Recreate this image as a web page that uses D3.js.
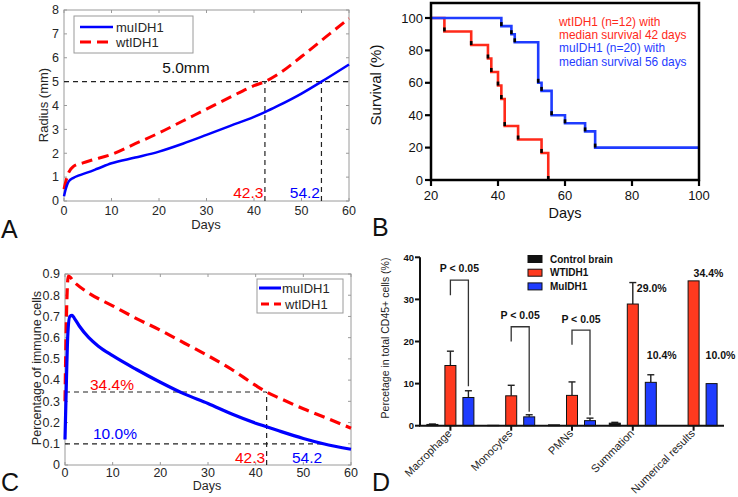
<!DOCTYPE html>
<html><head><meta charset="utf-8">
<script src="https://cdn.jsdelivr.net/npm/d3@7"></script>
<style>body{margin:0;background:#fff}svg{display:block;font-family:"Liberation Sans",Arial,sans-serif}</style>
</head><body><svg id="c" width="738" height="497"></svg>
<script>
// ---------- DATA ----------
// Panel A: tumour radius (mm) vs days
const radiusDaysMu = [0, 0.3, 0.6, 1, 2, 3, 5, 7, 10, 15, 20, 25, 30, 35, 40, 42.3, 45, 50, 54.2, 60];
const radiusMu     = [0.2, 0.45, 0.65, 0.82, 0.97, 1.06, 1.2, 1.35, 1.58, 1.82, 2.07, 2.4, 2.77, 3.15, 3.52, 3.72, 3.98, 4.5, 5.0, 5.72];
const radiusDaysWt = [0, 0.5, 1, 2, 4, 6, 10, 15, 20, 25, 30, 35, 40, 42.3, 45, 50, 55, 60];
const radiusWt     = [0.5, 0.9, 1.2, 1.45, 1.6, 1.72, 1.95, 2.4, 2.85, 3.35, 3.85, 4.35, 4.83, 5.0, 5.3, 6.05, 6.85, 7.65];
const radiusThreshold = 5.0;
const crossDays = [42.3, 54.2];
const aXTicks = [0, 10, 20, 30, 40, 50, 60];
const aYTicks = [0, 1, 2, 3, 4, 5, 6, 7, 8];

// Panel B: Kaplan–Meier survival (%)
const kmWtDays = [20, 24, 32, 37, 38, 40, 41, 42, 46, 53, 55];
const kmWt     = [100, 91.7, 83.3, 75, 66.7, 58.3, 50, 33.3, 25, 16.7, 0];
const kmMuDays = [20, 41, 44, 45, 52, 53, 56, 60, 66, 69, 100];
const kmMu     = [100, 95, 90, 85, 60, 55, 40, 35, 30, 20, 20];
const bXTicks = [20, 40, 60, 80, 100];
const bYTicks = [0, 20, 40, 60, 80, 100];
const bLegend = ["wtIDH1 (n=12) with", "median survival 42 days", "muIDH1 (n=20) with", "median survival 56 days"];

// Panel C: percentage of immune cells
const immDaysMu = [0, 0.3, 0.6, 1, 1.5, 2, 3, 5, 7, 10, 15, 20, 25, 30, 35, 40, 42.3, 45, 50, 54.2, 60];
const immMu     = [0.12, 0.4, 0.62, 0.7, 0.705, 0.69, 0.655, 0.6, 0.56, 0.515, 0.45, 0.39, 0.335, 0.29, 0.24, 0.197, 0.18, 0.16, 0.125, 0.1, 0.074];
const immDaysWt = [0, 0.3, 0.7, 2, 5, 10, 15, 20, 25, 30, 35, 40, 42.3, 45, 50, 55, 60];
const immWt     = [0.3, 0.7, 0.89, 0.86, 0.81, 0.75, 0.69, 0.635, 0.575, 0.515, 0.45, 0.375, 0.344, 0.315, 0.265, 0.22, 0.173];
const immWtAt = 0.344, immMuAt = 0.10;
const cYTicks = [0, 0.1, 0.2, 0.3, 0.4, 0.5, 0.6, 0.7, 0.8, 0.9];

// Panel D: bar chart
const dCategories = ["Macrophage", "Monocytes", "PMNs", "Summation", "Numerical results"];
const dSeries = ["Control brain", "WTIDH1", "MuIDH1"];
const dControl = [0.3, 0.1, 0.2, 0.6, 0];
const dControlErr = [0.4, null, null, 0.8, null];
const dWt = [14.3, 7.1, 7.2, 28.9, 34.4];
const dWtErr = [17.7, 9.6, 10.4, 34.0, null];
const dMu = [6.7, 2.1, 1.2, 10.3, 10.0];
const dMuErr = [8.3, 2.6, 1.8, 12.1, null];
const dYTicks = [0, 10, 20, 30, 40];
// significance brackets: [category index, top, left leg end, right leg end, label y]
const dSig = [[0, 34.6, 31.0, 9.4, 36.4], [1, 23.5, 20.0, 3.3, 25.3], [2, 22.7, 19.2, 2.5, 24.4]];
const dBarLabels = ["29.0%", "10.4%", "34.4%", "10.0%"];
const dBarLabelCat = [3, 3, 4, 4];
const dBarLabelSeries = [1, 2, 1, 2];
const dBarLabelY = [31.8, 15.8, 35.3, 15.8];

// ---------- DRAW ----------
const svg = d3.select("#c");
svg.append("rect").attr("width", 738).attr("height", 497).attr("fill", "#fff");
const RED = "#ff0000", BLUE = "#0000ff", TXT = "#262626", FRAME = "#9a9a9a";

function matlabFrame(g, x, y, xt, yt, yfmt, xoff) {
  const [x0, x1] = x.range(), [y0, y1] = y.range();
  g.append("rect").attr("x", x0).attr("y", y1).attr("width", x1 - x0).attr("height", y0 - y1)
    .attr("fill", "none").attr("stroke", FRAME).attr("stroke-width", 1);
  xt.forEach(t => {
    g.append("line").attr("x1", x(t)).attr("x2", x(t)).attr("y1", y0).attr("y2", y0 - 3).attr("stroke", FRAME);
    g.append("line").attr("x1", x(t)).attr("x2", x(t)).attr("y1", y1).attr("y2", y1 + 3).attr("stroke", FRAME);
    g.append("text").attr("x", x(t)).attr("y", y0 + xoff).attr("text-anchor", "middle")
      .attr("font-size", 12.5).attr("fill", TXT).text(t);
  });
  yt.forEach(t => {
    g.append("line").attr("x1", x0).attr("x2", x0 + 3).attr("y1", y(t)).attr("y2", y(t)).attr("stroke", FRAME);
    g.append("line").attr("x1", x1).attr("x2", x1 - 3).attr("y1", y(t)).attr("y2", y(t)).attr("stroke", FRAME);
    g.append("text").attr("x", x0 - 5).attr("y", y(t) + 4.3).attr("text-anchor", "end")
      .attr("font-size", 12.5).attr("fill", TXT).text(yfmt(t));
  });
}
function dashed(g, x1, y1, x2, y2) {
  g.append("line").attr("x1", x1).attr("y1", y1).attr("x2", x2).attr("y2", y2)
    .attr("stroke", "#222").attr("stroke-width", 1.2).attr("stroke-dasharray", "5,4");
}
function panelLetter(t, x, y) {
  svg.append("text").attr("x", x).attr("y", y).attr("font-size", 25).attr("fill", "#111").text(t);
}

// ===== Panel A =====
{
  const g = svg.append("g");
  const x = d3.scaleLinear([0, 60], [64, 349]);
  const y = d3.scaleLinear([0, 8], [201, 10]);
  matlabFrame(g, x, y, aXTicks, aYTicks, d => d, 14);
  const line = d3.line().x(d => x(d[0])).y(d => y(d[1])).curve(d3.curveMonotoneX);
  dashed(g, x(0), y(radiusThreshold), x(60), y(radiusThreshold));
  crossDays.forEach(d => dashed(g, x(d), y(0), x(d), y(radiusThreshold)));
  g.append("path").datum(d3.zip(radiusDaysWt, radiusWt)).attr("d", line)
    .attr("fill", "none").attr("stroke", RED).attr("stroke-width", 3).attr("stroke-dasharray", "11,6");
  g.append("path").datum(d3.zip(radiusDaysMu, radiusMu)).attr("d", line)
    .attr("fill", "none").attr("stroke", BLUE).attr("stroke-width", 2.5);
  g.append("text").attr("x", x(20.7)).attr("y", y(radiusThreshold) - 9).attr("font-size", 15.5).attr("fill", "#111").text("5.0mm");
  g.append("text").attr("x", x(crossDays[0]) - 1.5).attr("y", 198).attr("text-anchor", "end")
    .attr("font-size", 15.5).attr("fill", RED).text("42.3");
  g.append("text").attr("x", x(crossDays[1]) - 1.5).attr("y", 198).attr("text-anchor", "end")
    .attr("font-size", 15.5).attr("fill", BLUE).text("54.2");
  g.append("rect").attr("x", 74).attr("y", 16).attr("width", 119).attr("height", 37)
    .attr("fill", "#fff").attr("stroke", FRAME);
  g.append("line").attr("x1", 80).attr("x2", 113).attr("y1", 27).attr("y2", 27).attr("stroke", BLUE).attr("stroke-width", 2.5);
  g.append("line").attr("x1", 80).attr("x2", 113).attr("y1", 42).attr("y2", 42).attr("stroke", RED).attr("stroke-width", 3).attr("stroke-dasharray", "11,6");
  g.append("text").attr("x", 116).attr("y", 32).attr("font-size", 13).attr("fill", TXT).text("muIDH1");
  g.append("text").attr("x", 116).attr("y", 47).attr("font-size", 13).attr("fill", TXT).text("wtIDH1");
  g.append("text").attr("x", 206).attr("y", 229).attr("text-anchor", "middle").attr("font-size", 13).attr("fill", TXT).text("Days");
  g.append("text").attr("transform", "translate(48,105) rotate(-90)").attr("text-anchor", "middle")
    .attr("font-size", 13).attr("fill", TXT).text("Radius (mm)");
  panelLetter("A", 1, 238);
}

// ===== Panel B =====
{
  const g = svg.append("g");
  const x = d3.scaleLinear([20, 100], [431, 699]);
  const y = d3.scaleLinear([0, 100], [180, 18]);
  const step = d3.line().x(d => x(d[0])).y(d => y(d[1])).curve(d3.curveStepAfter);
  const drawKM = (days, vals, col) => {
    g.append("path").datum(d3.zip(days, vals)).attr("d", step)
      .attr("fill", "none").attr("stroke", col).attr("stroke-width", 2.6);
    for (let i = 1; i < days.length; i++) {
      if (vals[i] < vals[i - 1]) {
        g.append("line").attr("x1", x(days[i])).attr("x2", x(days[i]))
          .attr("y1", y(vals[i])).attr("y2", y(vals[i]) - 4)
          .attr("stroke", "#000").attr("stroke-width", 2.6);
      }
    }
  };
  drawKM(kmWtDays, kmWt, "#ff2a1a");
  drawKM(kmMuDays, kmMu, "#1f3cff");
  g.append("rect").attr("x", 431).attr("y", 3).attr("width", 268).attr("height", 177)
    .attr("fill", "none").attr("stroke", "#000").attr("stroke-width", 2.5);
  bYTicks.forEach(t => {
    g.append("line").attr("x1", 431).attr("x2", 425).attr("y1", y(t)).attr("y2", y(t)).attr("stroke", "#000").attr("stroke-width", 2.2);
    g.append("text").attr("x", 423).attr("y", y(t) + 4.6).attr("text-anchor", "end").attr("font-size", 13).attr("fill", "#111").text(t);
  });
  bXTicks.forEach(t => {
    g.append("line").attr("x1", x(t)).attr("x2", x(t)).attr("y1", 180).attr("y2", 186).attr("stroke", "#000").attr("stroke-width", 2.2);
    g.append("text").attr("x", x(t)).attr("y", 200).attr("text-anchor", "middle").attr("font-size", 13).attr("fill", "#111").text(t);
  });
  g.append("text").attr("x", 565).attr("y", 218).attr("text-anchor", "middle").attr("font-size", 14.5).attr("fill", "#111").text("Days");
  g.append("text").attr("transform", "translate(381,85) rotate(-90)").attr("text-anchor", "middle")
    .attr("font-size", 15).attr("fill", "#111").text("Survival (%)");
  bLegend.forEach((t, i) => {
    g.append("text").attr("x", 559).attr("y", 25.7 + i * 13.3).attr("font-size", 11.9)
      .attr("fill", i < 2 ? "#ff2a1a" : "#1f3cff").text(t);
  });
  panelLetter("B", 372, 236);
}

// ===== Panel C =====
{
  const g = svg.append("g");
  const x = d3.scaleLinear([0, 60], [65, 351]);
  const y = d3.scaleLinear([0, 0.9], [465, 274]);
  matlabFrame(g, x, y, aXTicks, cYTicks, d => d3.format("~g")(d), 12);
  const line = d3.line().x(d => x(d[0])).y(d => y(d[1])).curve(d3.curveMonotoneX);
  dashed(g, x(0), y(immWtAt), x(crossDays[0]), y(immWtAt));
  dashed(g, x(crossDays[0]), y(0), x(crossDays[0]), y(immWtAt));
  dashed(g, x(0), y(immMuAt), x(crossDays[1]), y(immMuAt));
  g.append("path").datum(d3.zip(immDaysWt, immWt)).attr("d", line)
    .attr("fill", "none").attr("stroke", RED).attr("stroke-width", 3.2).attr("stroke-dasharray", "11,6");
  g.append("path").datum(d3.zip(immDaysMu, immMu)).attr("d", line)
    .attr("fill", "none").attr("stroke", BLUE).attr("stroke-width", 3.2);
  g.append("text").attr("x", 90).attr("y", 390).attr("font-size", 15.5).attr("fill", RED).text("34.4%");
  g.append("text").attr("x", 93).attr("y", 439).attr("font-size", 15.5).attr("fill", BLUE).text("10.0%");
  g.append("text").attr("x", x(crossDays[0]) - 1.5).attr("y", 463).attr("text-anchor", "end")
    .attr("font-size", 15.5).attr("fill", RED).text("42.3");
  g.append("text").attr("x", 292).attr("y", 463).attr("font-size", 15.5).attr("fill", BLUE).text("54.2");
  g.append("rect").attr("x", 257).attr("y", 279).attr("width", 86).attr("height", 34)
    .attr("fill", "#fff").attr("stroke", FRAME);
  g.append("line").attr("x1", 259).attr("x2", 281).attr("y1", 288).attr("y2", 288).attr("stroke", BLUE).attr("stroke-width", 3);
  g.append("line").attr("x1", 261).attr("x2", 281).attr("y1", 304).attr("y2", 304).attr("stroke", RED).attr("stroke-width", 3).attr("stroke-dasharray", "8,5");
  g.append("text").attr("x", 282).attr("y", 293).attr("font-size", 13).attr("fill", TXT).text("muIDH1");
  g.append("text").attr("x", 285).attr("y", 309).attr("font-size", 13).attr("fill", TXT).text("wtIDH1");
  g.append("text").attr("x", 207).attr("y", 490).attr("text-anchor", "middle").attr("font-size", 12.5).attr("fill", TXT).text("Days");
  g.append("text").attr("transform", "translate(41,368) rotate(-90)").attr("text-anchor", "middle")
    .attr("font-size", 12.5).attr("fill", TXT).text("Percentage of immune cells");
  panelLetter("C", 1, 491);
}

// ===== Panel D =====
{
  const g = svg.append("g");
  const x0 = d3.scaleBand(dCategories, [420, 724]);
  const x1 = d3.scaleBand(dSeries, [-23.5, 23.5]).paddingInner(7 / 18);
  const y = d3.scaleLinear([0, 40], [425.7, 257.3]);
  const cx = (i, s) => x0(dCategories[i]) + x0.bandwidth() / 2 + x1(dSeries[s]) + x1.bandwidth() / 2;
  const vals = [dControl, dWt, dMu], errs = [dControlErr, dWtErr, dMuErr];
  const fills = ["#111", "#ff3a1f", "#1f3cff"];
  vals.forEach((arr, s) => {
    arr.forEach((v, i) => {
      const e = errs[s][i];
      if (e != null) {
        g.append("line").attr("x1", cx(i, s)).attr("x2", cx(i, s)).attr("y1", y(v)).attr("y2", y(e)).attr("stroke", "#222").attr("stroke-width", 1.4);
        g.append("line").attr("x1", cx(i, s) - 3.5).attr("x2", cx(i, s) + 3.5).attr("y1", y(e)).attr("y2", y(e)).attr("stroke", "#222").attr("stroke-width", 1.4);
      }
      if (v > 0) {
        g.append("rect").attr("x", cx(i, s) - x1.bandwidth() / 2).attr("y", y(v))
          .attr("width", x1.bandwidth()).attr("height", y(0) - y(v))
          .attr("fill", fills[s]).attr("stroke", "#111").attr("stroke-width", 1);
      }
    });
  });
  g.append("line").attr("x1", 420).attr("x2", 420).attr("y1", y(40)).attr("y2", y(0)).attr("stroke", "#111").attr("stroke-width", 2);
  g.append("line").attr("x1", 419).attr("x2", 724).attr("y1", y(0)).attr("y2", y(0)).attr("stroke", "#111").attr("stroke-width", 2);
  dYTicks.forEach(t => {
    g.append("line").attr("x1", 420).attr("x2", 415).attr("y1", y(t)).attr("y2", y(t)).attr("stroke", "#111").attr("stroke-width", 2);
    g.append("text").attr("x", 414).attr("y", y(t) + 3.3).attr("text-anchor", "end").attr("font-size", 9.5)
      .attr("font-weight", "bold").attr("fill", "#111").text(t);
  });
  dCategories.forEach((c, i) => {
    const xc = x0(c) + x0.bandwidth() / 2;
    g.append("line").attr("x1", xc).attr("x2", xc).attr("y1", y(0)).attr("y2", y(0) + 5).attr("stroke", "#111").attr("stroke-width", 2);
    g.append("text").attr("transform", `translate(${xc + 2},${y(0) + 8.5}) rotate(-45)`).attr("text-anchor", "end")
      .attr("font-size", 11).attr("fill", "#222").text(c);
  });
  dSig.forEach(([i, top, le, re, ly]) => {
    const xl = cx(i, 1), xr = cx(i, 2);
    g.append("path").attr("d", `M${xl},${y(le)}V${y(top)}H${xr}V${y(re)}`)
      .attr("fill", "none").attr("stroke", "#333").attr("stroke-width", 1.3);
    g.append("text").attr("x", (xl + xr) / 2).attr("y", y(ly)).attr("text-anchor", "middle")
      .attr("font-size", 10.5).attr("font-weight", "bold").attr("fill", "#111").text("P < 0.05");
  });
  const labelDx = [4, -4, 0, -6];
  dBarLabels.forEach((t, k) => {
    const i = dBarLabelCat[k], s = dBarLabelSeries[k];
    g.append("text").attr("x", cx(i, s) + labelDx[k]).attr("y", y(dBarLabelY[k])).attr("font-size", 10.5)
      .attr("font-weight", "bold").attr("fill", "#111").text(t);
  });
  dSeries.forEach((s, k) => {
    g.append("rect").attr("x", 528).attr("y", 255.5 + k * 13.7).attr("width", 14).attr("height", 7)
      .attr("fill", fills[k]).attr("stroke", "#111").attr("stroke-width", 1);
    g.append("text").attr("x", 550).attr("y", 262.7 + k * 13.7).attr("font-size", 10).attr("font-weight", "bold").attr("fill", "#111").text(s);
  });
  g.append("text").attr("transform", "translate(389,338) rotate(-90)").attr("text-anchor", "middle")
    .attr("font-size", 10.5).attr("fill", "#222").text("Percetage in total CD45+ cells (%)");
  panelLetter("D", 372, 491);
}
</script></body></html>
